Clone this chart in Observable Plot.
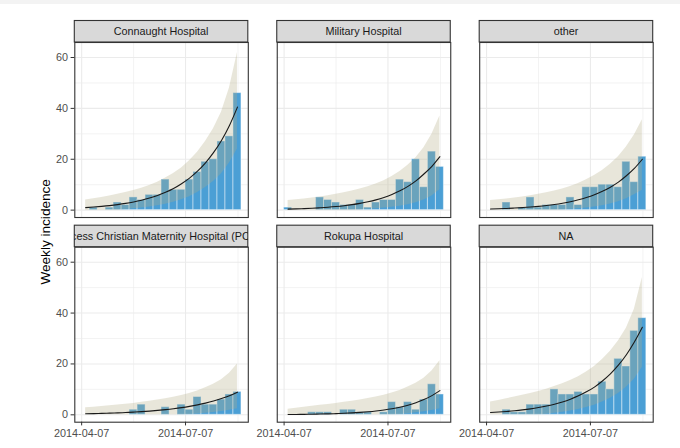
<!DOCTYPE html>
<html><head><meta charset="utf-8">
<script src="https://cdn.jsdelivr.net/npm/d3@7"></script>
<script src="https://cdn.jsdelivr.net/npm/@observablehq/plot@0.6"></script>
<style>
html,body{margin:0;padding:0;background:#fff;}
#wrap{position:relative;width:680px;height:448px;overflow:hidden;}
#band{position:absolute;left:0;top:0;width:680px;height:4px;background:#f3f3f3;}
</style></head><body><div id="wrap"><div id="chart"></div><div id="band"></div></div>
<script>
const weeks = ["2014-04-07","2014-04-14","2014-04-21","2014-04-28","2014-05-05","2014-05-12","2014-05-19","2014-05-26","2014-06-02","2014-06-09","2014-06-16","2014-06-23","2014-06-30","2014-07-07","2014-07-14","2014-07-21","2014-07-28","2014-08-04","2014-08-11","2014-08-18"];
const hospitals = ["Connaught Hospital","Military Hospital","other","Princess Christian Maternity Hospital (PCMH)","Rokupa Hospital","NA"];

const counts = [
  [0,1,0,1,3,2,5,4,6,6,12,8,8,12,15,19,20,27,29,46],
  [1,0,0,0,5,4,3,2,2,4,1,3,4,4,12,11,20,9,23,17],
  [0,0,3,0,1,5,1,2,2,2,5,2,9,9,10,10,9,19,11,21],
  [0,0,0,0,0,0,2,4,0,0,3,0,4,2,7,4,4,6,8,9],
  [0,0,0,1,1,1,0,2,2,1,1,0,1,5,3,5,2,6,12,8],
  [0,0,2,1,1,4,4,4,10,8,8,9,8,8,13,10,22,19,33,38]
];
const fitted = [
  [1.0,1.22,1.48,1.79,2.18,2.65,3.22,3.91,4.75,5.77,7.01,8.52,10.4,12.6,15.3,18.6,22.6,27.4,33.3,40.5],
  [0.4,0.49,0.61,0.75,0.93,1.14,1.41,1.74,2.15,2.65,3.27,4.03,4.98,6.14,7.58,9.35,11.5,14.2,17.2,21.0],
  [0.45,0.55,0.67,0.82,1.0,1.22,1.49,1.82,2.22,2.72,3.32,4.05,4.95,6.05,7.39,9.02,11.0,13.5,16.4,20.0],
  [0.4,0.47,0.55,0.65,0.77,0.9,1.06,1.25,1.47,1.73,2.04,2.4,2.82,3.32,3.91,4.6,5.42,6.38,7.5,8.9],
  [0.12,0.15,0.19,0.24,0.3,0.38,0.48,0.6,0.76,0.95,1.2,1.51,1.9,2.39,3.01,3.79,4.77,6.0,7.55,9.5],
  [0.9,1.09,1.32,1.6,1.94,2.35,2.85,3.45,4.19,5.07,6.15,7.45,9.03,10.9,13.3,16.1,19.5,23.6,28.6,34.4]
];
const upper = [
  [4.0,4.5,5.0,5.6,6.2,6.9,7.7,8.6,9.7,11.0,12.6,14.4,16.6,19.4,22.8,27.0,32.0,38.5,48.0,62.0],
  [3.8,4.1,4.4,4.8,5.2,5.7,6.2,6.8,7.5,8.3,9.2,10.3,11.6,13.2,15.2,17.6,20.6,24.5,29.8,37.0],
  [3.8,4.1,4.4,4.8,5.2,5.7,6.2,6.8,7.5,8.3,9.3,10.5,11.9,13.6,15.6,18.0,21.0,24.8,29.5,35.5],
  [2.8,3.0,3.3,3.6,3.9,4.2,4.5,4.9,5.3,5.8,6.3,6.9,7.6,8.4,9.4,10.6,12.0,13.8,16.3,20.0],
  [2.2,2.6,3.0,3.4,3.8,4.1,4.5,4.9,5.3,5.8,6.4,7.0,7.7,8.6,9.6,10.9,12.4,14.4,17.2,21.3],
  [5.0,5.6,6.3,7.0,7.7,8.4,9.2,10.1,11.1,12.2,13.5,15.0,16.8,19.0,21.7,25.0,29.0,34.0,41.5,54.0]
];
const lower = [
  [0,0,0,0,0,0.2,0.5,0.8,1.2,1.7,2.3,3.1,4.1,5.3,6.9,8.9,11.3,14.3,18.5,24.0],
  [0,0,0,0,0,0,0,0,0,0.1,0.3,0.5,0.8,1.1,1.5,2.1,2.9,4.0,5.6,8.0],
  [0,0,0,0,0,0,0,0,0,0.1,0.3,0.5,0.8,1.2,1.7,2.4,3.3,4.5,6.0,7.8],
  [0,0,0,0,0,0,0,0,0,0,0,0,0,0.1,0.3,0.6,0.9,1.3,1.8,2.4],
  [0,0,0,0,0,0,0,0,0,0,0,0,0,0,0.1,0.4,0.8,1.2,1.7,2.4],
  [0,0,0,0,0,0,0,0.2,0.6,1.0,1.5,2.1,2.9,3.8,5.0,6.5,8.4,10.8,14.0,18.7]
];
const yTicks = [0,20,40,60];
const yMinor = [10,30,50];
const xTicks = ["2014-04-07","2014-07-07"];
const xMinor = ["2014-05-22T12:00:00Z","2014-08-22"];

const rows = [];
hospitals.forEach((h, k) => {
  weeks.forEach((w, i) => {
    const start = new Date(w);
    rows.push({
      hospital: h, col: k % 3, row: Math.floor(k / 3),
      start, end: d3.utcDay.offset(start, 7),
      mid: new Date(+start + 3.5 * 864e5),
      count: counts[k][i], fit: fitted[k][i], lower: lower[k][i], upper: upper[k][i]
    });
  });
});

const font = "'Liberation Sans', Arial, Helvetica, sans-serif";
const chart = Plot.plot({
  width: 680, height: 448,
  marginLeft: 74.3, marginRight: 27.3, marginTop: 42, marginBottom: 26.3,
  style: {fontFamily: font, fontSize: "10.8px", background: "white", overflow: "visible"},
  x: {type: "utc", domain: [new Date("2014-04-01"), new Date("2014-08-31")]},
  y: {domain: [-2.9, 65.9]},
  fx: {domain: [0, 1, 2], paddingInner: 0.143, paddingOuter: 0, axis: null, round: false},
  fy: {domain: [0, 1], paddingInner: 0.145, paddingOuter: 0, axis: null, round: false},
  marks: [
    Plot.gridY(yMinor, {stroke: "#ebebeb", strokeOpacity: 1, strokeWidth: 0.6}),
    Plot.gridY(yTicks, {stroke: "#ebebeb", strokeOpacity: 1, strokeWidth: 1.1}),
    Plot.gridX(xMinor.map(d => new Date(d)), {stroke: "#ebebeb", strokeOpacity: 1, strokeWidth: 0.6}),
    Plot.gridX(xTicks.map(d => new Date(d)), {stroke: "#ebebeb", strokeOpacity: 1, strokeWidth: 1.1}),
    Plot.rectY(rows.filter(d => d.count > 0), {x1: "start", x2: "end", y: "count", fx: "col", fy: "row",
      fill: "#4b9fd5", stroke: "white", strokeOpacity: 0.45, strokeWidth: 1}),
    Plot.areaY(rows, {x: "mid", y1: "lower", y2: "upper", fx: "col", fy: "row", z: "hospital",
      fill: "#b2ac84", fillOpacity: 0.3}),
    Plot.lineY(rows, {x: "mid", y: "fit", fx: "col", fy: "row", z: "hospital",
      stroke: "#1a1a1a", strokeWidth: 1.1, curve: "monotone-x"}),
    Plot.frame({stroke: "#333", strokeWidth: 1.1}),
    Plot.axisY(yTicks, {anchor: "left", tickSize: 3.7, tickPadding: 3, fill: "#4d4d4d", stroke: "#333", label: null}),
    Plot.axisX(xTicks.map(d => new Date(d)), {anchor: "bottom", tickSize: 3.7, tickPadding: 3, fill: "#4d4d4d", stroke: "#333",
      tickFormat: d3.utcFormat("%Y-%m-%d"), label: null})
  ]
});
document.getElementById("chart").appendChild(chart);

// facet strips and axis title
const svg = d3.select(chart);
const sfx = chart.scale("fx"), sfy = chart.scale("fy");
const bw = sfx ? sfx.bandwidth : 173.4, bh = sfy ? sfy.bandwidth : 175;
const fxPos = c => sfx ? sfx.apply(c) : 74.3 + c * 202.3;
const fyPos = r => sfy ? sfy.apply(r) : 42 + r * 204.7;
const stripH = 21.5;
const g = svg.append("g");
hospitals.forEach((h, k) => {
  const x0 = fxPos(k % 3), y0 = fyPos(Math.floor(k / 3)) - stripH;
  const id = "stripclip" + k;
  g.append("clipPath").attr("id", id).append("rect")
    .attr("x", x0).attr("y", y0).attr("width", bw).attr("height", stripH);
  g.append("rect").attr("x", x0).attr("y", y0).attr("width", bw).attr("height", stripH)
    .attr("fill", "#d9d9d9").attr("stroke", "#333").attr("stroke-width", 1.1);
  g.append("text").attr("clip-path", `url(#${id})`)
    .attr("x", x0 + bw / 2).attr("y", y0 + stripH / 2).attr("dy", "0.36em")
    .attr("text-anchor", "middle").attr("font-size", "10.8px").attr("fill", "#1a1a1a")
    .attr("font-family", font).text(h);
});
const yc = (fyPos(0) + fyPos(1) + bh) / 2;
svg.append("text").attr("transform", `translate(50,${yc}) rotate(-90)`)
  .attr("text-anchor", "middle").attr("font-size", "13.6px").attr("fill", "#000")
  .attr("font-family", font).text("Weekly incidence");
</script>
</body></html>
